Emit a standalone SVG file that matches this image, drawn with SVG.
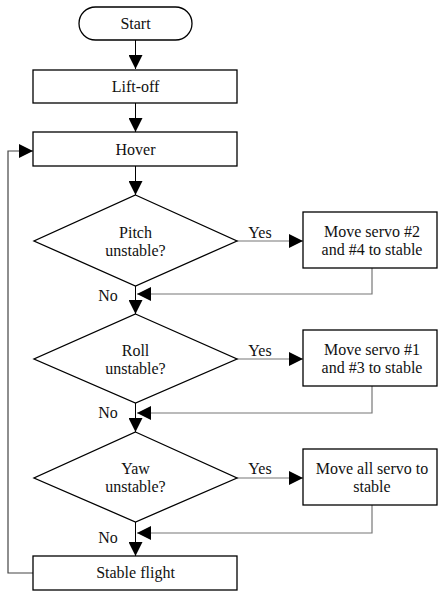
<svg xmlns="http://www.w3.org/2000/svg" width="438" height="592" viewBox="0 0 438 592">
<style>
.box{fill:#fff;stroke:#000;stroke-width:1.3}
.t{font-family:'Liberation Serif','Times New Roman','DejaVu Serif',serif;font-size:16px;fill:#111;text-anchor:middle}
.c{fill:none;stroke:#000;stroke-width:1}
.g{fill:none;stroke:#777;stroke-width:1.2}
.k{fill:none;stroke:#444;stroke-width:1.2}
</style>
<defs>
<marker id="ah" markerUnits="userSpaceOnUse" markerWidth="14" markerHeight="14" refX="14" refY="7" orient="auto">
<path d="M0,0 L14,7 L0,14 z" fill="#000"/>
</marker>
</defs>
<rect width="438" height="592" fill="#fff"/>
<g id="connectors">
<line class="c" x1="135.5" y1="40" x2="135.5" y2="69" marker-end="url(#ah)"/>
<line class="c" x1="135.5" y1="103" x2="135.5" y2="132" marker-end="url(#ah)"/>
<line class="c" x1="135.5" y1="166" x2="135.5" y2="195" marker-end="url(#ah)"/>
<line class="c" x1="135.5" y1="286" x2="135.5" y2="314" marker-end="url(#ah)"/>
<line class="c" x1="135.5" y1="403" x2="135.5" y2="432" marker-end="url(#ah)"/>
<line class="c" x1="135.5" y1="522" x2="135.5" y2="556" marker-end="url(#ah)"/>
<line class="g" x1="237" y1="241" x2="303" y2="241" marker-end="url(#ah)"/>
<line class="g" x1="237" y1="359" x2="303" y2="359" marker-end="url(#ah)"/>
<line class="g" x1="237" y1="478" x2="303" y2="478" marker-end="url(#ah)"/>
<polyline class="g" points="372,268 372,294 137,294" marker-end="url(#ah)"/>
<polyline class="g" points="372,386 372,413 137,413" marker-end="url(#ah)"/>
<polyline class="g" points="372,505 372,533 137,533" marker-end="url(#ah)"/>
<polyline class="k" points="33,573 8,573 8,151 33,151" marker-end="url(#ah)"/>
<text class="t" x="260" y="238">Yes</text>
<text class="t" x="260" y="356">Yes</text>
<text class="t" x="260" y="474">Yes</text>
<text class="t" x="108" y="301">No</text>
<text class="t" x="108" y="418">No</text>
<text class="t" x="108" y="543">No</text>
</g>
<g id="start">
<rect class="box" x="79" y="7" width="113" height="33" rx="16.5"/>
<text class="t" x="135.5" y="29">Start</text>
</g>
<g id="liftoff">
<rect class="box" x="33" y="70" width="204" height="33"/>
<text class="t" x="135.5" y="92">Lift-off</text>
</g>
<g id="hover">
<rect class="box" x="33" y="132" width="204" height="34"/>
<text class="t" x="135.5" y="155">Hover</text>
</g>
<g id="pitch">
<polygon class="box" points="135.5,195 237,241 135.5,286 34,241"/>
<text class="t" x="135.5" y="238">Pitch</text>
<text class="t" x="135.5" y="256">unstable?</text>
</g>
<g id="servo24">
<rect class="box" x="303" y="212" width="134" height="56"/>
<text class="t" x="372" y="237">Move servo #2</text>
<text class="t" x="372" y="255">and #4 to stable</text>
</g>
<g id="roll">
<polygon class="box" points="135.5,314 237,359 135.5,403 34,359"/>
<text class="t" x="135.5" y="356">Roll</text>
<text class="t" x="135.5" y="374">unstable?</text>
</g>
<g id="servo13">
<rect class="box" x="303" y="330" width="134" height="56"/>
<text class="t" x="372" y="355">Move servo #1</text>
<text class="t" x="372" y="373">and #3 to stable</text>
</g>
<g id="yaw">
<polygon class="box" points="135.5,432 237,478 135.5,522 34,478"/>
<text class="t" x="135.5" y="474">Yaw</text>
<text class="t" x="135.5" y="492">unstable?</text>
</g>
<g id="servoall">
<rect class="box" x="303" y="449" width="134" height="56"/>
<text class="t" x="372" y="474">Move all servo to</text>
<text class="t" x="372" y="492">stable</text>
</g>
<g id="stable">
<rect class="box" x="33" y="556" width="204" height="34"/>
<text class="t" x="135.5" y="578">Stable flight</text>
</g>
</svg>
